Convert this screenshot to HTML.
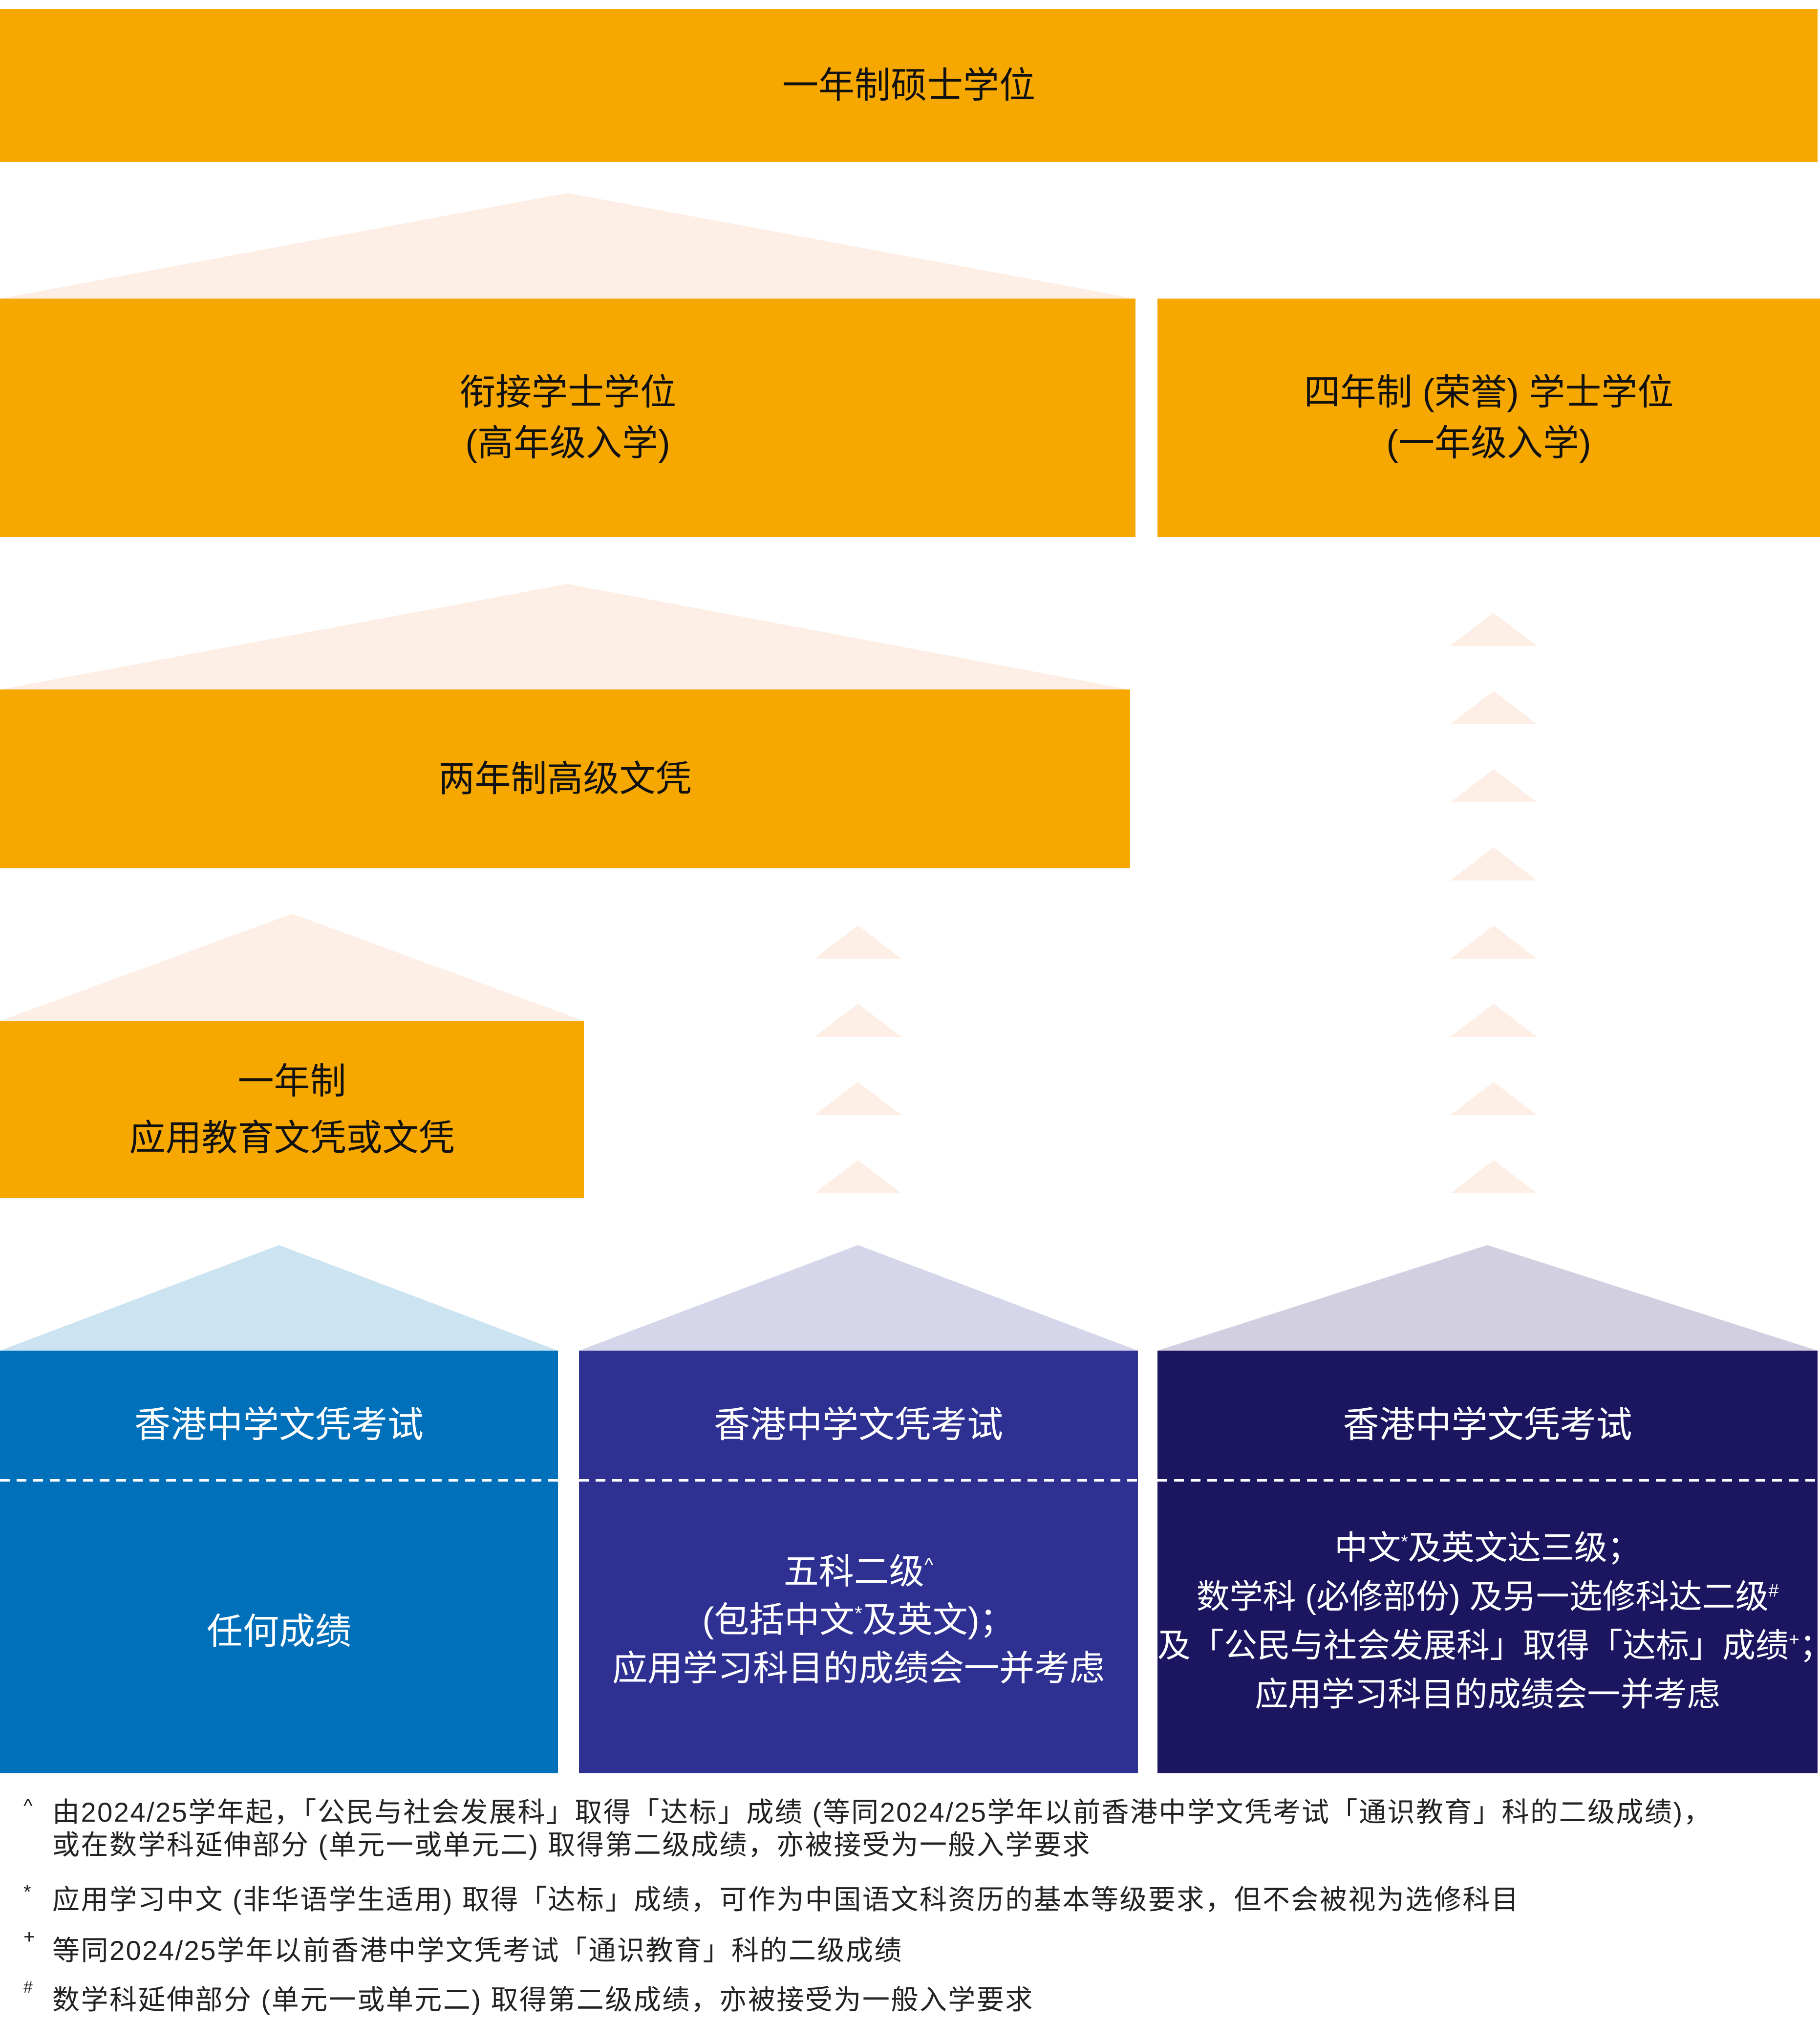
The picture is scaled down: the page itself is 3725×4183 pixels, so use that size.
<!DOCTYPE html>
<html><head><meta charset="utf-8"><style>
html,body{margin:0;padding:0;background:#fff}
body{width:3725px;height:4183px;position:relative;overflow:hidden;font-family:"Liberation Sans","Noto Sans CJK SC",sans-serif}
.b{position:absolute;display:flex;align-items:center;justify-content:center;text-align:center}
.o{background:#F6A800;color:#111;font-size:74px;line-height:104px}
.t{position:absolute;left:0;width:100%;text-align:center;color:#fff;font-size:74px}
.d{position:absolute;left:0;right:0;top:263px;height:5px;background:repeating-linear-gradient(90deg,#fff 0 20px,transparent 20px 34px)}
sup{line-height:0;font-size:0.55em}
.fn{position:absolute;left:107px;font-size:56px;letter-spacing:2.5px;color:#222;white-space:nowrap}
.sy{position:absolute;left:48px;font-size:40px;color:#222}
</style></head><body>
<svg width="3725" height="4183" style="position:absolute;left:0;top:0">
<polygon points="0,611 1161,395 2324,611" fill="#FDEFE5"/>
<polygon points="0,1411 1161,1195 2313,1411" fill="#FDEFE5"/>
<polygon points="0,2089 598,1870 1195,2089" fill="#FDEFE5"/>
<g fill="#FDEFE5">
<polygon points="1667,1962 1756,1894 1845,1962"/>
<polygon points="1667,2122 1756,2054 1845,2122"/>
<polygon points="1667,2282 1756,2214 1845,2282"/>
<polygon points="1667,2442 1756,2374 1845,2442"/>
<polygon points="2968,1322 3057,1254 3146,1322"/>
<polygon points="2968,1482 3057,1414 3146,1482"/>
<polygon points="2968,1642 3057,1574 3146,1642"/>
<polygon points="2968,1802 3057,1734 3146,1802"/>
<polygon points="2968,1962 3057,1894 3146,1962"/>
<polygon points="2968,2122 3057,2054 3146,2122"/>
<polygon points="2968,2282 3057,2214 3146,2282"/>
<polygon points="2968,2442 3057,2374 3146,2442"/>
</g>
<polygon points="0,2764 571,2548 1142,2764" fill="#CCE3F1"/>
<polygon points="1185,2764 1756,2548 2329,2764" fill="#D5D6EA"/>
<polygon points="2369,2764 3044,2548 3720,2764" fill="#D2D0E0"/>
</svg>
<div class="b o" style="left:0;top:19px;width:3720px;height:312px">一年制硕士学位</div>
<div class="b o" style="left:0;top:611px;width:2324px;height:488px">衔接学士学位<br>(高年级入学)</div>
<div class="b o" style="left:2369px;top:611px;width:1356px;height:488px">四年制 (荣誉) 学士学位<br>(一年级入学)</div>
<div class="b o" style="left:0;top:1411px;width:2313px;height:366px">两年制高级文凭</div>
<div class="b o" style="left:0;top:2089px;width:1195px;height:363px;line-height:116px">一年制<br>应用教育文凭或文凭</div>

<div style="position:absolute;left:0;top:2764px;width:1142px;height:865px;background:#0070BA">
<div class="t" style="top:92px">香港中学文凭考试</div>
<div class="d"></div>
<div class="t" style="top:515px">任何成绩</div></div>
<div style="position:absolute;left:1185px;top:2764px;width:1144px;height:865px;background:#2E3192">
<div class="t" style="top:92px">香港中学文凭考试</div>
<div class="d"></div>
<div class="t" style="top:404px;line-height:99px;font-size:72px">五科二级<sup>^</sup><br>(包括中文<sup>*</sup>及英文)；<br>应用学习科目的成绩会一并考虑</div></div>
<div style="position:absolute;left:2369px;top:2764px;width:1351px;height:865px;background:#1C1660">
<div class="t" style="top:354px;line-height:100px;font-size:68px;white-space:nowrap">中文<sup>*</sup>及英文达三级；<br>数学科 (必修部份) 及另一选修科达二级<sup>#</sup><br>及「公民与社会发展科」取得「达标」成绩<sup>+</sup>；<br>应用学习科目的成绩会一并考虑</div>
<div class="t" style="top:92px">香港中学文凭考试</div>
<div class="d"></div></div>

<div class="sy" style="top:3674px">^</div>
<div class="fn" style="top:3664px">由2024/25学年起，「公民与社会发展科」取得「达标」成绩 (等同2024/25学年以前香港中学文凭考试「通识教育」科的二级成绩)，</div>
<div class="fn" style="top:3731px">或在数学科延伸部分 (单元一或单元二) 取得第二级成绩，亦被接受为一般入学要求</div>
<div class="sy" style="top:3850px">*</div>
<div class="fn" style="top:3843px">应用学习中文 (非华语学生适用) 取得「达标」成绩，可作为中国语文科资历的基本等级要求，但不会被视为选修科目</div>
<div class="sy" style="top:3942px">+</div>
<div class="fn" style="top:3947px">等同2024/25学年以前香港中学文凭考试「通识教育」科的二级成绩</div>
<div class="sy" style="top:4048px;font-size:34px">#</div>
<div class="fn" style="top:4048px">数学科延伸部分 (单元一或单元二) 取得第二级成绩，亦被接受为一般入学要求</div>
</body></html>
